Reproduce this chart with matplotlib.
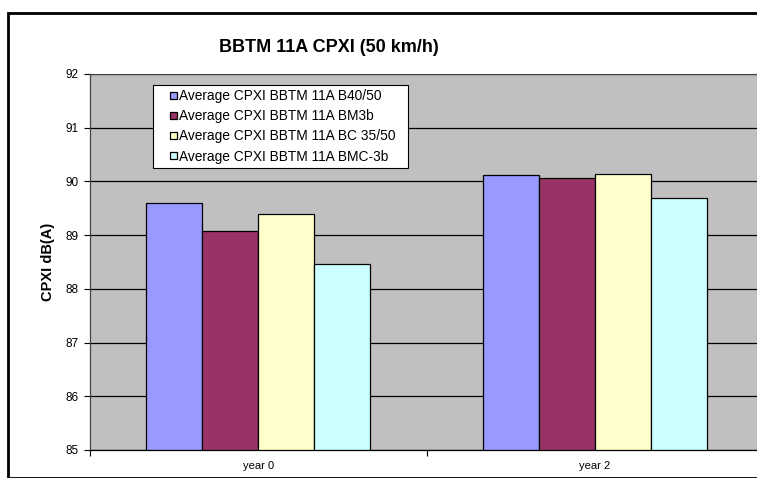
import matplotlib
matplotlib.use("Agg")
import matplotlib.pyplot as plt
from matplotlib.patches import Rectangle
from matplotlib.legend_handler import HandlerPatch, update_from_first_child
from matplotlib.container import BarContainer
import numpy as np

plt.rcParams['font.family'] = ['Liberation Sans', 'DejaVu Sans']

categories = ["year 0", "year 2"]
series_names = [
    "Average CPXI BBTM 11A B40/50",
    "Average CPXI BBTM 11A BM3b",
    "Average CPXI BBTM 11A BC 35/50",
    "Average CPXI BBTM 11A BMC-3b",
]
values_b4050 = [89.59, 90.12]
values_bm3b = [89.07, 90.07]
values_bc3550 = [89.39, 90.14]
values_bmc3b = [88.46, 89.70]
series_values = [values_b4050, values_bm3b, values_bc3550, values_bmc3b]
colors = ["#9999FF", "#993366", "#FFFFCC", "#CCFFFF"]
yticks = [85, 86, 87, 88, 89, 90, 91, 92]

W, H = 757, 478
fig = plt.figure(figsize=(W / 100, H / 100), dpi=100)

# outer chart border
fig.patches.append(Rectangle((8 / W, 0), 2.0, 1 - 13 / H, transform=fig.transFigure,
                             fill=False, edgecolor='black', linewidth=2.0, clip_on=False))

AX_L, AX_R, AX_T, AX_B = 90, 763, 74, 450
ax = fig.add_axes([AX_L / W, (H - AX_B) / H, (AX_R - AX_L) / W, (AX_B - AX_T) / H])
ax.set_facecolor('#C0C0C0')

x = np.arange(len(categories))
bw = (2 / 3) / len(series_values)
for i, (name, vals, c) in enumerate(zip(series_names, series_values, colors)):
    ax.bar(x - 1 / 3 + bw * (i + 0.5), [v - 85 for v in vals], bw, bottom=85,
           color=c, edgecolor='black', linewidth=0.9, label=name, zorder=3)

ax.set_ylim(85, 92)
ax.set_xlim(-0.5, 1.5)
ax.set_yticks(yticks)
ax.set_yticklabels([str(t) for t in yticks], fontsize=8.5)
ax.yaxis.grid(True, color='black', linewidth=0.9, zorder=1)
ax.set_axisbelow(True)
ax.tick_params(axis='y', direction='out', length=4, width=0.8, pad=4)

ax.set_xticks(x)
ax.set_xticklabels(categories, fontsize=8)
ax.tick_params(axis='x', which='major', length=0, pad=8)
ax.set_xticks([-0.5, 0.5, 1.5], minor=True)
ax.tick_params(axis='x', which='minor', direction='out', length=4, width=0.8)

ax.spines['right'].set_visible(False)
ax.spines['top'].set_color('#444444')
ax.spines['top'].set_linewidth(0.8)
ax.spines['left'].set_color('#444444')
ax.spines['left'].set_linewidth(0.9)
ax.spines['bottom'].set_color('black')
ax.spines['bottom'].set_linewidth(0.9)

ax.set_ylabel("CPXI dB(A)", fontsize=10.5, fontweight='bold', labelpad=8)

fig.text(329 / W, 1 - 47 / H, "BBTM 11A CPXI (50 km/h)", ha='center', va='center',
         fontsize=13, fontweight='bold')


def square_handle(legend, orig_handle, xdescent, ydescent, width, height, fontsize):
    s = 0.52 * fontsize
    return Rectangle((-xdescent + width - s, -ydescent + (height - s) / 2), s, s)


# legend box in pixel coords of the reference
LG_L, LG_R, LG_T, LG_B = 153, 408, 85, 166
axw, axh = AX_R - AX_L, AX_B - AX_T
bbox = ((LG_L - AX_L) / axw, 1 - (LG_B - AX_T) / axh, (LG_R - LG_L) / axw, (LG_B - LG_T) / axh)
leg = ax.legend(loc='upper left', bbox_to_anchor=bbox, mode='expand',
                fontsize=9.9, frameon=True, fancybox=False, framealpha=1,
                edgecolor='black', handlelength=1.42, handleheight=0.7,
                handletextpad=0.2, labelspacing=0.45, borderpad=0.3, borderaxespad=0,
                handler_map={BarContainer: HandlerPatch(patch_func=square_handle,
                                                        update_func=update_from_first_child)})
leg.get_frame().set_linewidth(0.8)
leg.set_zorder(5)

fig.savefig("out.png", dpi=100)
